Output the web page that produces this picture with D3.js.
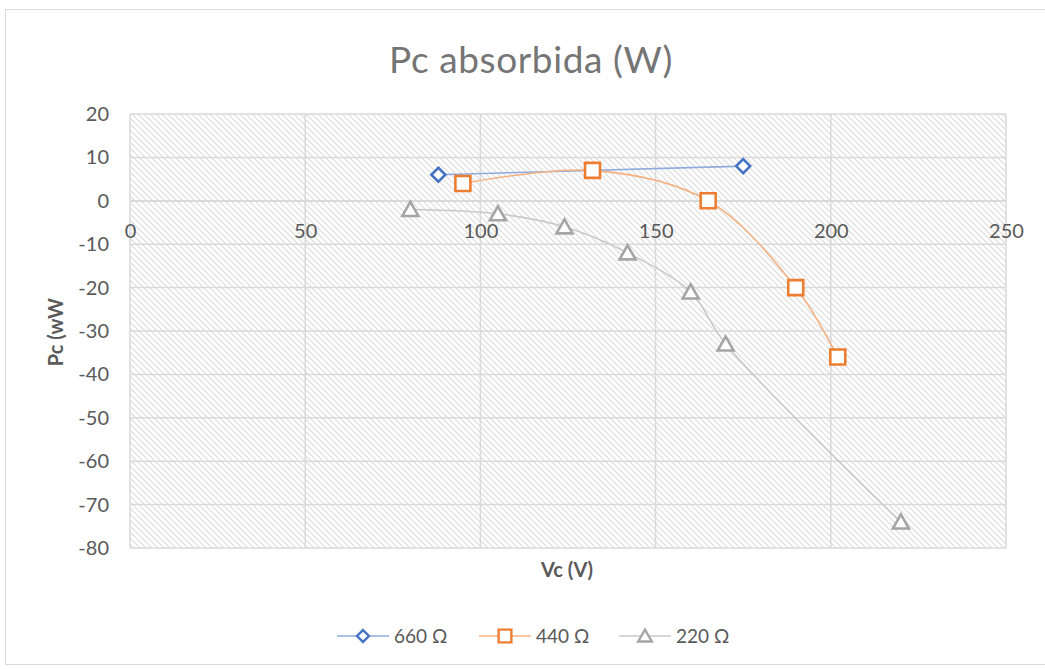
<!DOCTYPE html>
<html><head><meta charset="utf-8">
<script src="https://cdn.jsdelivr.net/npm/d3@7"></script>
<style>body{margin:0;background:#fff}svg{display:block}text{font-family:Lato,"Open Sans",sans-serif}</style>
</head><body><svg id="c" width="1045" height="670"></svg>
<script>
const xTicks = [0, 50, 100, 150, 200, 250];
const yTicks = [20, 10, 0, -10, -20, -30, -40, -50, -60, -70, -80];
const seriesNames = ["660 Ω", "440 Ω", "220 Ω"];
const s660 = [[88, 6], [175, 8]];
const s440 = [[95, 4], [132, 7], [165, 0], [190, -20], [202, -36]];
const s220 = [[80, -2], [105, -3], [124, -6], [142, -12], [160, -21], [170, -33], [220, -74]];
const colors = ["#4472C4", "#ED7D31", "#A5A5A5"];
const lineColors = ["#8FAADC", "#F4B183", "#C9C9C9"];
const markers = ["diamond", "square", "triangle"];
const series = [s660, s440, s220];

const svg = d3.select("#c");
const L = 130, R = 1006, T = 114, B = 548;
const x = d3.scaleLinear().domain([0, 250]).range([L, R]);
const y = d3.scaleLinear().domain([-80, 20]).range([B, T]);

svg.append("rect").attr("x", 5.5).attr("y", 9.5).attr("width", 1045).attr("height", 655)
  .attr("fill", "#fff").attr("stroke", "#D9D9D9");

const defs = svg.append("defs");
const pat = defs.append("pattern").attr("id", "hatch").attr("patternUnits", "userSpaceOnUse")
  .attr("width", 6).attr("height", 6);
pat.append("rect").attr("width", 6).attr("height", 6).attr("fill", "#fff");
pat.append("path").attr("d", "M0,0L6,6M-1,5L1,7M5,-1L7,1").attr("stroke", "#DCDCDC").attr("stroke-width", 1.1);

svg.append("rect").attr("x", L).attr("y", T).attr("width", R - L).attr("height", B - T)
  .attr("fill", "url(#hatch)");

svg.append("g").selectAll("line").data(yTicks).join("line")
  .attr("x1", L).attr("x2", R).attr("y1", d => y(d)).attr("y2", d => y(d))
  .attr("stroke", "#D9D9D9").attr("stroke-width", 1.5);
svg.append("g").selectAll("line").data(xTicks).join("line")
  .attr("y1", T).attr("y2", B).attr("x1", d => x(d)).attr("x2", d => x(d))
  .attr("stroke", "#D9D9D9").attr("stroke-width", 1.5);

const fmt = d => String(d);
const yAxis = svg.append("g").attr("transform", `translate(${L},0)`)
  .call(d3.axisLeft(y).tickValues(yTicks).tickFormat(fmt).tickSize(0).tickPadding(21));
yAxis.select(".domain").remove();
yAxis.selectAll("text").attr("font-size", 20).attr("fill", "#595959").attr("font-family", "Lato,'Open Sans',sans-serif");

const xAxis = svg.append("g").attr("transform", `translate(0,${y(0)})`)
  .call(d3.axisBottom(x).tickValues(xTicks).tickFormat(fmt).tickSize(0).tickPadding(23));
xAxis.select(".domain").attr("stroke", "#D9D9D9").attr("stroke-width", 1.5);
xAxis.selectAll("text").attr("font-size", 20).attr("fill", "#595959").attr("font-family", "Lato,'Open Sans',sans-serif");

svg.append("text").attr("x", 531).attr("y", 73).attr("text-anchor", "middle")
  .attr("font-size", 37).attr("letter-spacing", 0.6).attr("fill", "#757575").text("Pc absorbida (W)");
svg.append("text").attr("transform", "translate(63,332) rotate(-90)").attr("text-anchor", "middle")
  .attr("font-size", 20).attr("font-weight", "bold").attr("fill", "#595959").text("Pc (wW");
svg.append("text").attr("x", 567).attr("y", 577).attr("text-anchor", "middle")
  .attr("font-size", 20).attr("font-weight", "bold").attr("fill", "#595959").text("Vc (V)");

function markerPath(type) {
  if (type === "diamond") return "M0,-7L7,0L0,7L-7,0Z";
  if (type === "square") return "M-7.5,-7.5H7.5V7.5H-7.5Z";
  return "M0,-7.5L8,6.5H-8Z";
}

const line = d3.line().x(d => x(d[0])).y(d => y(d[1])).curve(d3.curveCatmullRom.alpha(0.5));
series.forEach((s, i) => {
  svg.append("path").datum(s).attr("d", line).attr("fill", "none")
    .attr("stroke", lineColors[i]).attr("stroke-width", 1.6);
});
series.forEach((s, i) => {
  svg.append("g").selectAll("path").data(s).join("path")
    .attr("transform", d => `translate(${x(d[0])},${y(d[1])})`)
    .attr("d", markerPath(markers[i])).attr("fill", "#fff")
    .attr("stroke", colors[i]).attr("stroke-width", 2.6);
});

const lx = [337, 479, 619];
const lg = svg.append("g");
seriesNames.forEach((n, i) => {
  const g = lg.append("g").attr("transform", `translate(${lx[i]},636)`);
  g.append("line").attr("x1", 0).attr("x2", 52).attr("stroke", lineColors[i]).attr("stroke-width", 1.6);
  g.append("path").attr("transform", "translate(26,0) scale(0.85)").attr("d", markerPath(markers[i]))
    .attr("fill", "#fff").attr("stroke", colors[i]).attr("stroke-width", 2.8);
  g.append("text").attr("x", 57).attr("y", 7).attr("font-size", 19).attr("fill", "#595959").text(n);
});
</script></body></html>
